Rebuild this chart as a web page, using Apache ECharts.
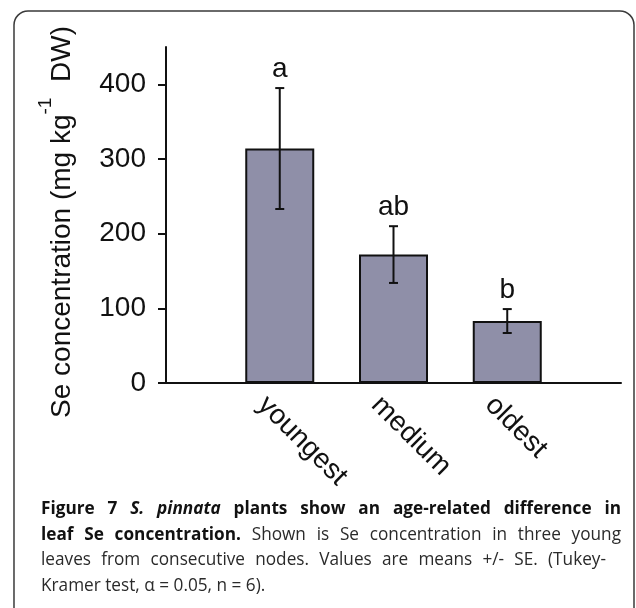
<!DOCTYPE html>
<html><head><meta charset="utf-8">
<script src="https://cdn.jsdelivr.net/npm/echarts@6/dist/echarts.min.js"></script>
<style>html,body{margin:0;padding:0;background:#fff}#c{width:636px;height:608px}</style>
</head><body><div id="c"></div>
<script>
// ---- data ----
const categories = ['youngest', 'medium', 'oldest'];
const means = [314, 172, 83];
const se = [81, 38, 16];
const letters = ['a', 'ab', 'b'];
const yTicks = [0, 100, 200, 300, 400];
const yMin = 0, yMax = 450, yInterval = 100;

// caption lines: [style, text] pieces; b=bold, bi=bold italic, n=normal
const captionLines = [
  { end: 621, parts: [['b', 'Figure 7 '], ['bi', 'S. pinnata'], ['b', ' plants show an age-related difference in']] },
  { end: 621, parts: [['b', 'leaf Se concentration.'], ['n', ' Shown is Se concentration in three young']] },
  { end: 606, parts: [['n', 'leaves from consecutive nodes. Values are means +/- SE. (Tukey-']] },
  { end: null, parts: [['n', 'Kramer test, \u03b1 = 0.05, n = 6).']] }
];

// ---- layout helpers ----
const xCats = [''].concat(categories, ['']);
const barData = [null].concat(means, [null]);
const errData = categories.map((c, i) => [i + 1, means[i], se[i]]);

const FONT = '"Liberation Sans", Arial, sans-serif';
const CAP_FONT = '"Open Sans", sans-serif';
const capSize = 18.5, capScale = 0.93;
const ctx = document.createElement('canvas').getContext('2d');
function fontOf(st) {
  const w = st.indexOf('b') >= 0 ? 'bold ' : '';
  const it = st.indexOf('i') >= 0 ? 'italic ' : '';
  return it + w + capSize + 'px ' + CAP_FONT;
}
function captionGraphics() {
  const out = [];
  const x0 = 41, y0 = 509, lh = 25.6;
  captionLines.forEach((ln, li) => {
    const words = [];
    ln.parts.forEach(([st, txt]) => {
      txt.split(' ').forEach((w, k) => {
        if (k > 0) words.push(null);
        if (w.length) words.push({ st, w });
      });
    });
    const items = []; let gaps = 0;
    words.forEach(w => { if (w === null) { if (items.length && items[items.length - 1] !== 'gap') { items.push('gap'); gaps++; } } else items.push(w); });
    let W = 0;
    items.forEach(it => { if (it !== 'gap') { ctx.font = fontOf(it.st); it.width = ctx.measureText(it.w).width * capScale; W += it.width; } });
    ctx.font = fontOf('n');
    const sp = ctx.measureText(' ').width * capScale;
    const gap = ln.end && gaps ? (ln.end - x0 - W) / gaps : sp;
    let x = x0;
    const y = y0 + li * lh;
    items.forEach(it => {
      if (it === 'gap') { x += gap; return; }
      out.push({
        type: 'text', x: x, y: y, scaleX: capScale, silent: true,
        style: {
          text: it.w, fill: it.st === 'n' ? '#2a2a2a' : '#111',
          font: fontOf(it.st), verticalAlign: 'middle', align: 'left'
        }
      });
      x += it.width;
    });
  });
  return out;
}

const chart = echarts.init(document.getElementById('c'), null, { renderer: 'canvas' });
chart.setOption({
  animation: false,
  backgroundColor: '#fff',
  grid: { left: 166, right: 15, top: 47, bottom: 225, containLabel: false },
  xAxis: {
    type: 'category', data: xCats, boundaryGap: false,
    axisLine: { lineStyle: { color: '#111', width: 2 } },
    axisTick: { show: false },
    axisLabel: {
      interval: 0, rotate: -45, margin: 0, color: '#111',
      formatter: v => '{v|' + v + '}',
      rich: { v: { fontFamily: FONT, fontSize: 28, color: '#111', lineHeight: 78, verticalAlign: 'bottom' } }
    }
  },
  yAxis: {
    type: 'value', min: yMin, max: yMax, interval: yInterval,
    splitLine: { show: false },
    axisLine: { show: true, lineStyle: { color: '#111', width: 2 } },
    axisTick: { show: true, length: 8, lineStyle: { color: '#111', width: 2 }, customValues: yTicks },
    axisLabel: { customValues: yTicks, margin: 20, color: '#111', fontFamily: FONT, fontSize: 28 },
    name: '{a|Se concentration (mg kg}{s|-1}{a|  DW)}',
    nameLocation: 'middle', nameRotate: 90, nameGap: 90,
    nameTextStyle: {
      padding: [0, 14, 0, 0],
      rich: {
        a: { fontFamily: FONT, fontSize: 28, color: '#111', lineHeight: 40, verticalAlign: 'bottom' },
        s: { fontFamily: FONT, fontSize: 19, color: '#111', lineHeight: 19, verticalAlign: 'top' }
      }
    }
  },
  series: [
    {
      type: 'bar', data: barData, barWidth: 69,
      itemStyle: { color: '#8f8fa8', borderColor: '#111', borderWidth: 2 },
      z: 2
    },
    {
      type: 'custom', data: errData, z: 5,
      renderItem: function (params, api) {
        const x = api.value(0), m = api.value(1), e = api.value(2);
        const top = api.coord([x, m + e]), bot = api.coord([x, m - e]);
        const hw = 4.5;
        const ls = { stroke: '#111', lineWidth: 2 };
        return {
          type: 'group', children: [
            { type: 'line', shape: { x1: top[0], y1: top[1], x2: bot[0], y2: bot[1] }, style: ls },
            { type: 'line', shape: { x1: top[0] - hw, y1: top[1], x2: top[0] + hw, y2: top[1] }, style: ls },
            { type: 'line', shape: { x1: bot[0] - hw, y1: bot[1], x2: bot[0] + hw, y2: bot[1] }, style: ls },
            { type: 'text', x: top[0], y: top[1] - 19, style: { text: letters[params.dataIndex], fill: '#111', font: '28px ' + FONT, align: 'center', verticalAlign: 'middle' } }
          ]
        };
      }
    }
  ],
  graphic: [
    { type: 'rect', silent: true, shape: { x: 14, y: 11, width: 620, height: 660, r: 14 }, style: { fill: null, stroke: '#3a3a3a', lineWidth: 1.5 } }
  ].concat(captionGraphics())
});
</script>
</body></html>
